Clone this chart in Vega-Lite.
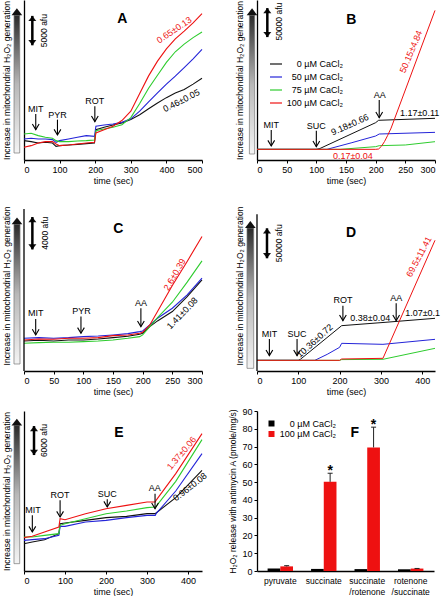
{
"$schema":"https://vega.github.io/schema/vega-lite/v6.json",
"padding":{"left":2,"top":0,"right":0,"bottom":0},
"columns":2,
"spacing":{"row":40,"column":55},
"bounds":"flush",
"resolve":{"scale":{"color":"independent"},"legend":{"color":"independent"}},
"config":{
 "font":"Liberation Sans",
 "view":{"stroke":null},
 "axis":{"grid":false,"domainColor":"#000","domainWidth":1.3,"tickColor":"#000","tickSize":3,"labelColor":"#000","titleColor":"#000","labelFontSize":9,"titleFontSize":9,"titleFontWeight":"normal","labelPadding":2,"minExtent":0,"labelFont":"Liberation Sans","titleFont":"Liberation Sans"},
 "legend":{"labelFont":"Liberation Sans","labelColor":"#000","padding":0},
 "text":{"font":"Liberation Sans"}
},
"datasets":{
"L":[
{"p":"A","s":"0","x":0,"y":3290},{"p":"A","s":"0","x":20,"y":3120},{"p":"A","s":"0","x":40,"y":2890},{"p":"A","s":"0","x":60,"y":3005},{"p":"A","s":"0","x":80,"y":2890},{"p":"A","s":"0","x":90,"y":2320},{"p":"A","s":"0","x":100,"y":2440},{"p":"A","s":"0","x":125,"y":2550},{"p":"A","s":"0","x":150,"y":2660},{"p":"A","s":"0","x":175,"y":2780},{"p":"A","s":"0","x":198,"y":2890},{"p":"A","s":"0","x":202,"y":5160},{"p":"A","s":"0","x":225,"y":5560},{"p":"A","s":"0","x":250,"y":5950},{"p":"A","s":"0","x":275,"y":6290},{"p":"A","s":"0","x":300,"y":6900},{"p":"A","s":"0","x":325,"y":7700},{"p":"A","s":"0","x":350,"y":8700},{"p":"A","s":"0","x":375,"y":9700},{"p":"A","s":"0","x":400,"y":10600},{"p":"A","s":"0","x":425,"y":11400},{"p":"A","s":"0","x":450,"y":12000},{"p":"A","s":"0","x":475,"y":12900},{"p":"A","s":"0","x":500,"y":13900},
{"p":"A","s":"50","x":0,"y":3570},{"p":"A","s":"50","x":20,"y":3690},{"p":"A","s":"50","x":40,"y":3570},{"p":"A","s":"50","x":60,"y":3570},{"p":"A","s":"50","x":80,"y":3460},{"p":"A","s":"50","x":90,"y":3005},{"p":"A","s":"50","x":100,"y":3290},{"p":"A","s":"50","x":125,"y":3570},{"p":"A","s":"50","x":150,"y":3860},{"p":"A","s":"50","x":175,"y":4140},{"p":"A","s":"50","x":198,"y":4030},{"p":"A","s":"50","x":202,"y":5730},{"p":"A","s":"50","x":225,"y":5950},{"p":"A","s":"50","x":250,"y":6120},{"p":"A","s":"50","x":275,"y":6410},{"p":"A","s":"50","x":300,"y":7000},{"p":"A","s":"50","x":325,"y":8300},{"p":"A","s":"50","x":350,"y":9900},{"p":"A","s":"50","x":375,"y":11400},{"p":"A","s":"50","x":400,"y":12900},{"p":"A","s":"50","x":425,"y":14250},{"p":"A","s":"50","x":450,"y":15700},{"p":"A","s":"50","x":475,"y":17200},{"p":"A","s":"50","x":500,"y":18800},
{"p":"A","s":"75","x":0,"y":4420},{"p":"A","s":"75","x":20,"y":4540},{"p":"A","s":"75","x":40,"y":4140},{"p":"A","s":"75","x":60,"y":3860},{"p":"A","s":"75","x":80,"y":3690},{"p":"A","s":"75","x":90,"y":3290},{"p":"A","s":"75","x":100,"y":3120},{"p":"A","s":"75","x":125,"y":3120},{"p":"A","s":"75","x":150,"y":3230},{"p":"A","s":"75","x":175,"y":3290},{"p":"A","s":"75","x":198,"y":3400},{"p":"A","s":"75","x":202,"y":4990},{"p":"A","s":"75","x":225,"y":5270},{"p":"A","s":"75","x":250,"y":5560},{"p":"A","s":"75","x":275,"y":6000},{"p":"A","s":"75","x":300,"y":7200},{"p":"A","s":"75","x":325,"y":9600},{"p":"A","s":"75","x":350,"y":12200},{"p":"A","s":"75","x":375,"y":14400},{"p":"A","s":"75","x":400,"y":16600},{"p":"A","s":"75","x":425,"y":18400},{"p":"A","s":"75","x":450,"y":19700},{"p":"A","s":"75","x":475,"y":20800},{"p":"A","s":"75","x":500,"y":21750},
{"p":"A","s":"100","x":0,"y":2155},{"p":"A","s":"100","x":20,"y":2440},{"p":"A","s":"100","x":40,"y":2890},{"p":"A","s":"100","x":60,"y":3120},{"p":"A","s":"100","x":80,"y":3120},{"p":"A","s":"100","x":90,"y":2720},{"p":"A","s":"100","x":100,"y":2440},{"p":"A","s":"100","x":125,"y":2550},{"p":"A","s":"100","x":150,"y":2720},{"p":"A","s":"100","x":175,"y":2890},{"p":"A","s":"100","x":198,"y":3005},{"p":"A","s":"100","x":202,"y":4590},{"p":"A","s":"100","x":225,"y":5160},{"p":"A","s":"100","x":250,"y":5730},{"p":"A","s":"100","x":275,"y":6700},{"p":"A","s":"100","x":300,"y":8300},{"p":"A","s":"100","x":325,"y":11300},{"p":"A","s":"100","x":350,"y":14300},{"p":"A","s":"100","x":375,"y":16800},{"p":"A","s":"100","x":400,"y":18900},{"p":"A","s":"100","x":425,"y":20600},{"p":"A","s":"100","x":450,"y":21900},{"p":"A","s":"100","x":475,"y":23300},{"p":"A","s":"100","x":500,"y":24900},
{"p":"B","s":"0","x":0,"y":18400},{"p":"B","s":"0","x":100,"y":18400},{"p":"B","s":"0","x":106,"y":19800},{"p":"B","s":"0","x":200,"y":64400},{"p":"B","s":"0","x":205,"y":68500},{"p":"B","s":"0","x":300,"y":71900},
{"p":"B","s":"50","x":0,"y":18400},{"p":"B","s":"50","x":118,"y":18400},{"p":"B","s":"50","x":160,"y":29900},{"p":"B","s":"50","x":200,"y":41400},{"p":"B","s":"50","x":206,"y":44850},{"p":"B","s":"50","x":300,"y":47700},
{"p":"B","s":"75","x":0,"y":18400},{"p":"B","s":"75","x":140,"y":18400},{"p":"B","s":"75","x":200,"y":23000},{"p":"B","s":"75","x":206,"y":24700},{"p":"B","s":"75","x":250,"y":25900},{"p":"B","s":"75","x":300,"y":31600},
{"p":"B","s":"100","x":0,"y":18400},{"p":"B","s":"100","x":200,"y":18400},{"p":"B","s":"100","x":205,"y":19000},{"p":"B","s":"100","x":210,"y":24000},{"p":"B","s":"100","x":215,"y":32000},{"p":"B","s":"100","x":220,"y":42000},{"p":"B","s":"100","x":226,"y":55000},{"p":"B","s":"100","x":300,"y":258000},
{"p":"C","s":"0","x":0,"y":3708},{"p":"C","s":"0","x":25,"y":3790},{"p":"C","s":"0","x":50,"y":3708},{"p":"C","s":"0","x":75,"y":3832},{"p":"C","s":"0","x":100,"y":3832},{"p":"C","s":"0","x":125,"y":3955},{"p":"C","s":"0","x":150,"y":4120},{"p":"C","s":"0","x":175,"y":4285},{"p":"C","s":"0","x":195,"y":4532},{"p":"C","s":"0","x":200,"y":4656},{"p":"C","s":"0","x":212,"y":5480},{"p":"C","s":"0","x":225,"y":6180},{"p":"C","s":"0","x":250,"y":7334},{"p":"C","s":"0","x":275,"y":9188},{"p":"C","s":"0","x":300,"y":11248},
{"p":"C","s":"50","x":0,"y":4038},{"p":"C","s":"50","x":25,"y":4120},{"p":"C","s":"50","x":50,"y":4038},{"p":"C","s":"50","x":75,"y":4120},{"p":"C","s":"50","x":100,"y":4244},{"p":"C","s":"50","x":125,"y":4326},{"p":"C","s":"50","x":150,"y":4450},{"p":"C","s":"50","x":175,"y":4614},{"p":"C","s":"50","x":195,"y":4862},{"p":"C","s":"50","x":200,"y":4944},{"p":"C","s":"50","x":212,"y":5686},{"p":"C","s":"50","x":225,"y":6510},{"p":"C","s":"50","x":250,"y":7746},{"p":"C","s":"50","x":275,"y":9394},{"p":"C","s":"50","x":300,"y":11454},
{"p":"C","s":"75","x":0,"y":3420},{"p":"C","s":"75","x":25,"y":3502},{"p":"C","s":"75","x":50,"y":3543},{"p":"C","s":"75","x":75,"y":3543},{"p":"C","s":"75","x":100,"y":3626},{"p":"C","s":"75","x":125,"y":3708},{"p":"C","s":"75","x":150,"y":3832},{"p":"C","s":"75","x":175,"y":4038},{"p":"C","s":"75","x":195,"y":4244},{"p":"C","s":"75","x":200,"y":4450},{"p":"C","s":"75","x":212,"y":5480},{"p":"C","s":"75","x":225,"y":6592},{"p":"C","s":"75","x":250,"y":8487},{"p":"C","s":"75","x":275,"y":10959},{"p":"C","s":"75","x":300,"y":13596},
{"p":"C","s":"100","x":0,"y":3832},{"p":"C","s":"100","x":25,"y":3955},{"p":"C","s":"100","x":50,"y":3914},{"p":"C","s":"100","x":75,"y":4038},{"p":"C","s":"100","x":100,"y":4038},{"p":"C","s":"100","x":125,"y":4120},{"p":"C","s":"100","x":150,"y":4367},{"p":"C","s":"100","x":175,"y":4450},{"p":"C","s":"100","x":195,"y":4656},{"p":"C","s":"100","x":200,"y":4779},{"p":"C","s":"100","x":212,"y":5686},{"p":"C","s":"100","x":225,"y":7334},{"p":"C","s":"100","x":250,"y":10547},{"p":"C","s":"100","x":275,"y":13514},{"p":"C","s":"100","x":300,"y":16604},
{"p":"D","s":"0","x":0,"y":17792},{"p":"D","s":"0","x":100,"y":17792},{"p":"D","s":"0","x":105,"y":19460},{"p":"D","s":"0","x":205,"y":75616},{"p":"D","s":"0","x":310,"y":81176},{"p":"D","s":"0","x":431,"y":87848},
{"p":"D","s":"50","x":0,"y":17792},{"p":"D","s":"50","x":140,"y":17792},{"p":"D","s":"50","x":170,"y":27800},{"p":"D","s":"50","x":200,"y":39476},{"p":"D","s":"50","x":205,"y":46148},{"p":"D","s":"50","x":305,"y":44480},{"p":"D","s":"50","x":431,"y":52820},
{"p":"D","s":"75","x":0,"y":17792},{"p":"D","s":"75","x":200,"y":17792},{"p":"D","s":"75","x":205,"y":19000},{"p":"D","s":"75","x":305,"y":19500},{"p":"D","s":"75","x":431,"y":37808},
{"p":"D","s":"100","x":0,"y":17792},{"p":"D","s":"100","x":200,"y":17792},{"p":"D","s":"100","x":205,"y":20016},{"p":"D","s":"100","x":305,"y":21128},{"p":"D","s":"100","x":431,"y":218000},
{"p":"E","s":"0","x":0,"y":5658},{"p":"E","s":"0","x":20,"y":6003},{"p":"E","s":"0","x":50,"y":6486},{"p":"E","s":"0","x":85,"y":7728},{"p":"E","s":"0","x":88,"y":9798},{"p":"E","s":"0","x":100,"y":9936},{"p":"E","s":"0","x":150,"y":10488},{"p":"E","s":"0","x":200,"y":11040},{"p":"E","s":"0","x":250,"y":11316},{"p":"E","s":"0","x":300,"y":11868},{"p":"E","s":"0","x":320,"y":11868},{"p":"E","s":"0","x":322,"y":12006},{"p":"E","s":"0","x":370,"y":15180},{"p":"E","s":"0","x":434,"y":20838},
{"p":"E","s":"50","x":0,"y":6348},{"p":"E","s":"50","x":20,"y":6486},{"p":"E","s":"50","x":50,"y":6693},{"p":"E","s":"50","x":85,"y":7383},{"p":"E","s":"50","x":88,"y":9246},{"p":"E","s":"50","x":100,"y":9246},{"p":"E","s":"50","x":150,"y":10143},{"p":"E","s":"50","x":200,"y":10488},{"p":"E","s":"50","x":250,"y":11040},{"p":"E","s":"50","x":300,"y":11523},{"p":"E","s":"50","x":320,"y":11523},{"p":"E","s":"50","x":322,"y":11868},{"p":"E","s":"50","x":370,"y":16560},{"p":"E","s":"50","x":434,"y":24288},
{"p":"E","s":"75","x":0,"y":7038},{"p":"E","s":"75","x":20,"y":7038},{"p":"E","s":"75","x":50,"y":7383},{"p":"E","s":"75","x":85,"y":7728},{"p":"E","s":"75","x":88,"y":9453},{"p":"E","s":"75","x":100,"y":9798},{"p":"E","s":"75","x":150,"y":10833},{"p":"E","s":"75","x":200,"y":11868},{"p":"E","s":"75","x":250,"y":12420},{"p":"E","s":"75","x":300,"y":13110},{"p":"E","s":"75","x":320,"y":13248},{"p":"E","s":"75","x":322,"y":13386},{"p":"E","s":"75","x":370,"y":18561},{"p":"E","s":"75","x":434,"y":27186},
{"p":"E","s":"100","x":0,"y":6900},{"p":"E","s":"100","x":20,"y":7176},{"p":"E","s":"100","x":50,"y":8073},{"p":"E","s":"100","x":85,"y":9108},{"p":"E","s":"100","x":88,"y":10833},{"p":"E","s":"100","x":100,"y":10626},{"p":"E","s":"100","x":150,"y":11868},{"p":"E","s":"100","x":200,"y":12903},{"p":"E","s":"100","x":250,"y":13593},{"p":"E","s":"100","x":300,"y":14283},{"p":"E","s":"100","x":320,"y":14283},{"p":"E","s":"100","x":322,"y":14628},{"p":"E","s":"100","x":370,"y":20148},{"p":"E","s":"100","x":434,"y":28428}
],
"N":[
{"p":"A","t":"MIT","x":33,"y":8675,"c":"#000","a":0,"fs":9},
{"p":"A","t":"PYR","x":94,"y":7655,"c":"#000","a":0,"fs":9},
{"p":"A","t":"ROT","x":199,"y":10036,"c":"#000","a":0,"fs":9},
{"p":"A","t":"0.65±0.13","x":422,"y":22100,"c":"#ee1111","a":326,"fs":9},
{"p":"A","t":"0.46±0.05","x":442,"y":10100,"c":"#000","a":333,"fs":9},
{"p":"A","t":"5000 afu","x":56,"y":22000,"c":"#000","a":270,"fs":8.5},
{"p":"B","t":"MIT","x":24,"y":60375,"c":"#000","a":0,"fs":9},
{"p":"B","t":"SUC","x":100,"y":58650,"c":"#000","a":0,"fs":9},
{"p":"B","t":"AA","x":207,"y":112125,"c":"#000","a":0,"fs":9},
{"p":"B","t":"50.15±4.84","x":259.6,"y":186800,"c":"#ee1111","a":293,"fs":9},
{"p":"B","t":"0.17±0.04","x":161.6,"y":7475,"c":"#ee1111","a":0,"fs":9},
{"p":"B","t":"9.18±0.66","x":156.5,"y":60950,"c":"#000","a":336,"fs":9},
{"p":"B","t":"1.17±0.11","x":274,"y":80500,"c":"#000","a":0,"fs":9},
{"p":"B","t":"50000 afu","x":36.5,"y":238600,"c":"#000","a":270,"fs":8.5},
{"p":"C","t":"MIT","x":19.7,"y":7130,"c":"#000","a":0,"fs":9},
{"p":"C","t":"PYR","x":97,"y":7460,"c":"#000","a":0,"fs":9},
{"p":"C","t":"AA","x":197,"y":8360,"c":"#000","a":0,"fs":9},
{"p":"C","t":"2.6±0.39","x":253.8,"y":11900,"c":"#ee1111","a":300,"fs":9},
{"p":"C","t":"1.41±0.08","x":266.8,"y":7130,"c":"#000","a":314,"fs":9},
{"p":"C","t":"4000 afu","x":35,"y":17000,"c":"#000","a":270,"fs":8.5},
{"p":"D","t":"MIT","x":30,"y":61700,"c":"#000","a":0,"fs":9},
{"p":"D","t":"SUC","x":97,"y":61700,"c":"#000","a":0,"fs":9},
{"p":"D","t":"ROT","x":208,"y":118400,"c":"#000","a":0,"fs":9},
{"p":"D","t":"AA","x":337,"y":122300,"c":"#000","a":0,"fs":9},
{"p":"D","t":"69.5±11.41","x":392,"y":190600,"c":"#ee1111","a":298,"fs":9},
{"p":"D","t":"10.36±0.72","x":140,"y":50500,"c":"#000","a":318,"fs":9},
{"p":"D","t":"0.38±0.04","x":274.4,"y":88900,"c":"#000","a":0,"fs":9},
{"p":"D","t":"1.07±0.1","x":401,"y":96100,"c":"#000","a":0,"fs":9},
{"p":"D","t":"50000 afu","x":54,"y":213000,"c":"#000","a":270,"fs":8.5},
{"p":"E","t":"MIT","x":22,"y":12700,"c":"#000","a":0,"fs":9},
{"p":"E","t":"ROT","x":88,"y":15800,"c":"#000","a":0,"fs":9},
{"p":"E","t":"SUC","x":203,"y":15870,"c":"#000","a":0,"fs":9},
{"p":"E","t":"AA","x":319,"y":17250,"c":"#000","a":0,"fs":9},
{"p":"E","t":"1.37±0.06","x":384,"y":24400,"c":"#ee1111","a":310,"fs":9},
{"p":"E","t":"0.96±0.08","x":404.6,"y":17400,"c":"#000","a":322,"fs":9},
{"p":"E","t":"6000 afu","x":48.8,"y":27000,"c":"#000","a":270,"fs":8.5}
],
"K":[
{"p":"A","t":"A","x":276,"y":23980},
{"p":"B","t":"B","x":158.8,"y":241500},
{"p":"C","t":"C","x":159,"y":17550},
{"p":"D","t":"D","x":228,"y":230700},
{"p":"E","t":"E","x":231.7,"y":28635}
],
"R":[
{"p":"A","x":33,"y":5160,"y2":7825,"w":1.1},{"p":"A","x":94,"y":4250,"y2":6860,"w":1.1},{"p":"A","x":199,"y":6520,"y2":9130,"w":1.1},{"p":"A","x":23.4,"y":19500,"y2":24500,"w":2.5},
{"p":"B","x":24,"y":24150,"y2":51750,"w":1.1},{"p":"B","x":100,"y":23000,"y2":50600,"w":1.1},{"p":"B","x":206,"y":73000,"y2":103500,"w":1.1},{"p":"B","x":17.4,"y":212000,"y2":262000,"w":2.5},
{"p":"C","x":19.7,"y":4450,"y2":6430,"w":1.1},{"p":"C","x":96,"y":4655,"y2":6715,"w":1.1},{"p":"C","x":197,"y":5480,"y2":7745,"w":1.1},{"p":"C","x":14.1,"y":15000,"y2":19000,"w":2.5},{"p":"C","x":0,"y":0,"y2":19980,"w":1.3},
{"p":"D","x":30,"y":25600,"y2":53400,"w":1.1},{"p":"D","x":97,"y":25600,"y2":53400,"w":1.1},{"p":"D","x":208,"y":84000,"y2":109000,"w":1.1},{"p":"D","x":337,"y":83950,"y2":112900,"w":1.1},{"p":"D","x":24.2,"y":188000,"y2":238000,"w":2.5},{"p":"D","x":0,"y":0,"y2":261300,"w":1.3},
{"p":"E","x":20.3,"y":8070,"y2":11520,"w":1.1},{"p":"E","x":88,"y":11180,"y2":14630,"w":1.1},{"p":"E","x":203,"y":13250,"y2":14835,"w":1.1},{"p":"E","x":319.5,"y":12900,"y2":16010,"w":1.1},{"p":"E","x":24.4,"y":24000,"y2":30000,"w":2.5}
],
"H":[
{"p":"A","x":33,"y":5160},{"p":"A","x":94,"y":4250},{"p":"A","x":199,"y":6520},
{"p":"B","x":24,"y":24150},{"p":"B","x":100,"y":23000},{"p":"B","x":206,"y":73000},
{"p":"C","x":19.7,"y":4450},{"p":"C","x":96,"y":4655},{"p":"C","x":197,"y":5480},
{"p":"D","x":30,"y":25600},{"p":"D","x":97,"y":25600},{"p":"D","x":208,"y":84000},{"p":"D","x":337,"y":83950},
{"p":"E","x":20.3,"y":8070},{"p":"E","x":88,"y":11180},{"p":"E","x":203,"y":13250},{"p":"E","x":319.5,"y":12900}
],
"T":[
{"p":"A","x":23.4,"y":24500,"sh":"M0,0L1,1.3L-1,1.3Z","sz":64},{"p":"A","x":23.4,"y":19500,"sh":"M0,0L1,-1.3L-1,-1.3Z","sz":64},{"p":"A","x":-20,"y":25800,"sh":"M0,0L1,1.3L-1,1.3Z","sz":114},
{"p":"B","x":17.4,"y":262000,"sh":"M0,0L1,1.3L-1,1.3Z","sz":64},{"p":"B","x":17.4,"y":212000,"sh":"M0,0L1,-1.3L-1,-1.3Z","sz":64},{"p":"B","x":-8.35,"y":261600,"sh":"M0,0L1,1.3L-1,1.3Z","sz":114},
{"p":"C","x":14.1,"y":19000,"sh":"M0,0L1,1.3L-1,1.3Z","sz":64},{"p":"C","x":14.1,"y":15000,"sh":"M0,0L1,-1.3L-1,-1.3Z","sz":64},{"p":"C","x":-11.8,"y":18950,"sh":"M0,0L1,1.3L-1,1.3Z","sz":114},
{"p":"D","x":24.2,"y":238000,"sh":"M0,0L1,1.3L-1,1.3Z","sz":64},{"p":"D","x":24.2,"y":188000,"sh":"M0,0L1,-1.3L-1,-1.3Z","sz":64},{"p":"D","x":-16.1,"y":250000,"sh":"M0,0L1,1.3L-1,1.3Z","sz":114},
{"p":"E","x":24.4,"y":30000,"sh":"M0,0L1,1.3L-1,1.3Z","sz":64},{"p":"E","x":24.4,"y":24000,"sh":"M0,0L1,-1.3L-1,-1.3Z","sz":64},{"p":"E","x":-17.45,"y":31530,"sh":"M0,0L1,1.3L-1,1.3Z","sz":114}
],
"G":[
{"p":"A","x":-28,"x2":-12,"y":1190,"y2":24600},
{"p":"B","x":-12.8,"x2":-3.9,"y":10350,"y2":249600},
{"p":"C","x":-16.9,"x2":-6.7,"y":865,"y2":18100},
{"p":"D","x":-24.2,"x2":-8,"y":4450,"y2":238300},
{"p":"E","x":-24.4,"x2":-10.5,"y":1518,"y2":30100}
],
"F":[
{"cat":"pyruvate","g":"0","v":1.41,"hi":1.49},
{"cat":"pyruvate","g":"100","v":2.6,"hi":2.99},
{"cat":"succinate","g":"0","v":1.17,"hi":1.28},
{"cat":"succinate","g":"100","v":50.15,"hi":54.99},
{"cat":"succinate /rotenone","g":"0","v":1.07,"hi":1.17},
{"cat":"succinate /rotenone","g":"100","v":69.5,"hi":80.91},
{"cat":"rotenone /succinate","g":"0","v":0.96,"hi":1.04},
{"cat":"rotenone /succinate","g":"100","v":1.37,"hi":1.43}
],
"FC":[
{"cat":"pyruvate","g":"100","v":2.99},
{"cat":"succinate","g":"100","v":54.99},
{"cat":"succinate /rotenone","g":"100","v":80.91},
{"cat":"rotenone /succinate","g":"100","v":1.43}
]
},
"concat":[
{
 "width":178,"height":160,
 "encoding":{
  "x":{"field":"x","type":"quantitative","scale":{"domain":[0,500],"nice":false,"zero":false},"axis":{"values":[0,100,200,300,400,500],"title":"time (sec)","titlePadding":2}},
  "y":{"field":"y","type":"quantitative","scale":{"domain":[0,27200],"nice":false,"zero":false},"axis":{"title":"Increase in mitochondrial H₂O₂ generation","labels":false,"ticks":false,"titleFontSize":8.5,"titlePadding":13}}
 },
 "layer":[
  {"data":{"name":"G"},"transform":[{"filter":"datum.p=='A'"}],"mark":{"type":"rect","fill":{"gradient":"linear","x1":0,"y1":1,"x2":0,"y2":0,"stops":[{"offset":0,"color":"#f4f4f4"},{"offset":0.5,"color":"#b8b8b8"},{"offset":1,"color":"#2a2a2a"}]},"stroke":"#777","strokeWidth":0.7},"encoding":{"x2":{"field":"x2"},"y2":{"field":"y2"}}},
  {"data":{"name":"T"},"transform":[{"filter":"datum.p=='A'"}],"mark":{"type":"point","filled":true,"color":"#111","opacity":1,"strokeWidth":0},"encoding":{"shape":{"field":"sh","type":"nominal","scale":null},"size":{"field":"sz","type":"quantitative","scale":null}}},
  {"data":{"name":"L"},"transform":[{"filter":"datum.p=='A'"}],"mark":{"type":"line","strokeWidth":1.1},"encoding":{"color":{"field":"s","type":"nominal","scale":{"domain":["0","50","75","100"],"range":["#111111","#2424d8","#2ecc2e","#ee1111"]},"legend":null}}},
  {"data":{"name":"R"},"transform":[{"filter":"datum.p=='A'"}],"mark":{"type":"rule","color":"#000"},"encoding":{"y2":{"field":"y2"},"strokeWidth":{"field":"w","type":"quantitative","scale":null}}},
  {"data":{"name":"H"},"transform":[{"filter":"datum.p=='A'"}],"mark":{"type":"point","shape":"M-0.75,-1.25L0,0L0.75,-1.25","size":81,"filled":false,"color":"#000","strokeWidth":1.1,"opacity":1}},
  {"data":{"name":"N"},"transform":[{"filter":"datum.p=='A'"}],"mark":{"type":"text","baseline":"middle","align":"center"},"encoding":{"text":{"field":"t"},"color":{"field":"c","type":"nominal","scale":null},"angle":{"field":"a","type":"quantitative","scale":null},"size":{"field":"fs","type":"quantitative","scale":null}}},
  {"data":{"name":"K"},"transform":[{"filter":"datum.p=='A'"}],"mark":{"type":"text","fontSize":14,"fontWeight":"bold","baseline":"middle","color":"#000"},"encoding":{"text":{"field":"t"}}}
 ]
},
{
 "width":178,"height":160,
 "encoding":{
  "x":{"field":"x","type":"quantitative","scale":{"domain":[0,300],"nice":false,"zero":false},"axis":{"values":[0,50,100,150,200,250,300],"title":"time (sec)","titlePadding":2}},
  "y":{"field":"y","type":"quantitative","scale":{"domain":[0,276000],"nice":false,"zero":false},"axis":{"title":"Increase in mitochondrial H₂O₂ generation","labels":false,"ticks":false,"titleFontSize":8.5,"titlePadding":13}}
 },
 "layer":[
  {"data":{"name":"G"},"transform":[{"filter":"datum.p=='B'"}],"mark":{"type":"rect","fill":{"gradient":"linear","x1":0,"y1":1,"x2":0,"y2":0,"stops":[{"offset":0,"color":"#f4f4f4"},{"offset":0.5,"color":"#b8b8b8"},{"offset":1,"color":"#2a2a2a"}]},"stroke":"#777","strokeWidth":0.7},"encoding":{"x2":{"field":"x2"},"y2":{"field":"y2"}}},
  {"data":{"name":"T"},"transform":[{"filter":"datum.p=='B'"}],"mark":{"type":"point","filled":true,"color":"#111","opacity":1,"strokeWidth":0},"encoding":{"shape":{"field":"sh","type":"nominal","scale":null},"size":{"field":"sz","type":"quantitative","scale":null}}},
  {"data":{"name":"L"},"transform":[{"filter":"datum.p=='B'"}],"mark":{"type":"line","strokeWidth":1},"encoding":{"color":{"field":"s","type":"nominal","scale":{"domain":["0","50","75","100"],"range":["#111111","#2424d8","#2ecc2e","#ee1111"]},"legend":{"orient":"none","legendX":12,"legendY":57,"title":null,"symbolType":"stroke","symbolSize":144,"symbolStrokeWidth":1.2,"labelFontSize":9,"labelAlign":"right","labelOffset":60,"rowPadding":1,"labelExpr":"datum.label+' µM CaCl₂'"}}}},
  {"data":{"name":"R"},"transform":[{"filter":"datum.p=='B'"}],"mark":{"type":"rule","color":"#000"},"encoding":{"y2":{"field":"y2"},"strokeWidth":{"field":"w","type":"quantitative","scale":null}}},
  {"data":{"name":"H"},"transform":[{"filter":"datum.p=='B'"}],"mark":{"type":"point","shape":"M-0.75,-1.25L0,0L0.75,-1.25","size":81,"filled":false,"color":"#000","strokeWidth":1.1,"opacity":1}},
  {"data":{"name":"N"},"transform":[{"filter":"datum.p=='B'"}],"mark":{"type":"text","baseline":"middle","align":"center"},"encoding":{"text":{"field":"t"},"color":{"field":"c","type":"nominal","scale":null},"angle":{"field":"a","type":"quantitative","scale":null},"size":{"field":"fs","type":"quantitative","scale":null}}},
  {"data":{"name":"K"},"transform":[{"filter":"datum.p=='B'"}],"mark":{"type":"text","fontSize":14,"fontWeight":"bold","baseline":"middle","color":"#000"},"encoding":{"text":{"field":"t"}}}
 ]
},
{
 "width":178,"height":171,
 "encoding":{
  "x":{"field":"x","type":"quantitative","scale":{"domain":[0,300],"nice":false,"zero":false},"axis":{"values":[0,50,100,150,200,250,300],"title":"time (sec)","titlePadding":2}},
  "y":{"field":"y","type":"quantitative","scale":{"domain":[0,21100],"nice":false,"zero":false},"axis":{"title":"Increase in mitochondrial H₂O₂ generation","labels":false,"ticks":false,"domain":false,"titleFontSize":8.5,"titlePadding":13}}
 },
 "layer":[
  {"data":{"name":"G"},"transform":[{"filter":"datum.p=='C'"}],"mark":{"type":"rect","fill":{"gradient":"linear","x1":0,"y1":1,"x2":0,"y2":0,"stops":[{"offset":0,"color":"#f4f4f4"},{"offset":0.5,"color":"#b8b8b8"},{"offset":1,"color":"#2a2a2a"}]},"stroke":"#777","strokeWidth":0.7},"encoding":{"x2":{"field":"x2"},"y2":{"field":"y2"}}},
  {"data":{"name":"T"},"transform":[{"filter":"datum.p=='C'"}],"mark":{"type":"point","filled":true,"color":"#111","opacity":1,"strokeWidth":0},"encoding":{"shape":{"field":"sh","type":"nominal","scale":null},"size":{"field":"sz","type":"quantitative","scale":null}}},
  {"data":{"name":"L"},"transform":[{"filter":"datum.p=='C'"}],"mark":{"type":"line","strokeWidth":1.1},"encoding":{"color":{"field":"s","type":"nominal","scale":{"domain":["0","50","75","100"],"range":["#111111","#2424d8","#2ecc2e","#ee1111"]},"legend":null}}},
  {"data":{"name":"R"},"transform":[{"filter":"datum.p=='C'"}],"mark":{"type":"rule","color":"#000"},"encoding":{"y2":{"field":"y2"},"strokeWidth":{"field":"w","type":"quantitative","scale":null}}},
  {"data":{"name":"H"},"transform":[{"filter":"datum.p=='C'"}],"mark":{"type":"point","shape":"M-0.75,-1.25L0,0L0.75,-1.25","size":81,"filled":false,"color":"#000","strokeWidth":1.1,"opacity":1}},
  {"data":{"name":"N"},"transform":[{"filter":"datum.p=='C'"}],"mark":{"type":"text","baseline":"middle","align":"center"},"encoding":{"text":{"field":"t"},"color":{"field":"c","type":"nominal","scale":null},"angle":{"field":"a","type":"quantitative","scale":null},"size":{"field":"fs","type":"quantitative","scale":null}}},
  {"data":{"name":"K"},"transform":[{"filter":"datum.p=='C'"}],"mark":{"type":"text","fontSize":14,"fontWeight":"bold","baseline":"middle","color":"#000"},"encoding":{"text":{"field":"t"}}}
 ]
},
{
 "width":178,"height":171,
 "encoding":{
  "x":{"field":"x","type":"quantitative","scale":{"domain":[0,431],"nice":false,"zero":false},"axis":{"values":[0,100,200,300,400],"title":"time (sec)","titlePadding":2}},
  "y":{"field":"y","type":"quantitative","scale":{"domain":[0,285200],"nice":false,"zero":false},"axis":{"title":"Increase in mitochondrial H₂O₂ generation","labels":false,"ticks":false,"domain":false,"titleFontSize":8.5,"titlePadding":13}}
 },
 "layer":[
  {"data":{"name":"G"},"transform":[{"filter":"datum.p=='D'"}],"mark":{"type":"rect","fill":{"gradient":"linear","x1":0,"y1":1,"x2":0,"y2":0,"stops":[{"offset":0,"color":"#f4f4f4"},{"offset":0.5,"color":"#b8b8b8"},{"offset":1,"color":"#2a2a2a"}]},"stroke":"#777","strokeWidth":0.7},"encoding":{"x2":{"field":"x2"},"y2":{"field":"y2"}}},
  {"data":{"name":"T"},"transform":[{"filter":"datum.p=='D'"}],"mark":{"type":"point","filled":true,"color":"#111","opacity":1,"strokeWidth":0},"encoding":{"shape":{"field":"sh","type":"nominal","scale":null},"size":{"field":"sz","type":"quantitative","scale":null}}},
  {"data":{"name":"L"},"transform":[{"filter":"datum.p=='D'"}],"mark":{"type":"line","strokeWidth":1},"encoding":{"color":{"field":"s","type":"nominal","scale":{"domain":["0","50","75","100"],"range":["#111111","#2424d8","#2ecc2e","#ee1111"]},"legend":null}}},
  {"data":{"name":"R"},"transform":[{"filter":"datum.p=='D'"}],"mark":{"type":"rule","color":"#000"},"encoding":{"y2":{"field":"y2"},"strokeWidth":{"field":"w","type":"quantitative","scale":null}}},
  {"data":{"name":"H"},"transform":[{"filter":"datum.p=='D'"}],"mark":{"type":"point","shape":"M-0.75,-1.25L0,0L0.75,-1.25","size":81,"filled":false,"color":"#000","strokeWidth":1.1,"opacity":1}},
  {"data":{"name":"N"},"transform":[{"filter":"datum.p=='D'"}],"mark":{"type":"text","baseline":"middle","align":"center"},"encoding":{"text":{"field":"t"},"color":{"field":"c","type":"nominal","scale":null},"angle":{"field":"a","type":"quantitative","scale":null},"size":{"field":"fs","type":"quantitative","scale":null}}},
  {"data":{"name":"K"},"transform":[{"filter":"datum.p=='D'"}],"mark":{"type":"text","fontSize":14,"fontWeight":"bold","baseline":"middle","color":"#000"},"encoding":{"text":{"field":"t"}}}
 ]
},
{
 "width":178,"height":160,
 "encoding":{
  "x":{"field":"x","type":"quantitative","scale":{"domain":[0,434],"nice":false,"zero":false},"axis":{"values":[0,100,200,300,400],"title":"time (sec)","titlePadding":2}},
  "y":{"field":"y","type":"quantitative","scale":{"domain":[0,33120],"nice":false,"zero":false},"axis":{"title":"Increase in mitochondrial H₂O₂ generation","labels":false,"ticks":false,"titleFontSize":8.5,"titlePadding":13}}
 },
 "layer":[
  {"data":{"name":"G"},"transform":[{"filter":"datum.p=='E'"}],"mark":{"type":"rect","fill":{"gradient":"linear","x1":0,"y1":1,"x2":0,"y2":0,"stops":[{"offset":0,"color":"#f4f4f4"},{"offset":0.5,"color":"#b8b8b8"},{"offset":1,"color":"#2a2a2a"}]},"stroke":"#777","strokeWidth":0.7},"encoding":{"x2":{"field":"x2"},"y2":{"field":"y2"}}},
  {"data":{"name":"T"},"transform":[{"filter":"datum.p=='E'"}],"mark":{"type":"point","filled":true,"color":"#111","opacity":1,"strokeWidth":0},"encoding":{"shape":{"field":"sh","type":"nominal","scale":null},"size":{"field":"sz","type":"quantitative","scale":null}}},
  {"data":{"name":"L"},"transform":[{"filter":"datum.p=='E'"}],"mark":{"type":"line","strokeWidth":1.1},"encoding":{"color":{"field":"s","type":"nominal","scale":{"domain":["0","50","75","100"],"range":["#111111","#2424d8","#2ecc2e","#ee1111"]},"legend":null}}},
  {"data":{"name":"R"},"transform":[{"filter":"datum.p=='E'"}],"mark":{"type":"rule","color":"#000"},"encoding":{"y2":{"field":"y2"},"strokeWidth":{"field":"w","type":"quantitative","scale":null}}},
  {"data":{"name":"H"},"transform":[{"filter":"datum.p=='E'"}],"mark":{"type":"point","shape":"M-0.75,-1.25L0,0L0.75,-1.25","size":81,"filled":false,"color":"#000","strokeWidth":1.1,"opacity":1}},
  {"data":{"name":"N"},"transform":[{"filter":"datum.p=='E'"}],"mark":{"type":"text","baseline":"middle","align":"center"},"encoding":{"text":{"field":"t"},"color":{"field":"c","type":"nominal","scale":null},"angle":{"field":"a","type":"quantitative","scale":null},"size":{"field":"fs","type":"quantitative","scale":null}}},
  {"data":{"name":"K"},"transform":[{"filter":"datum.p=='E'"}],"mark":{"type":"text","fontSize":14,"fontWeight":"bold","baseline":"middle","color":"#000"},"encoding":{"text":{"field":"t"}}}
 ]
},
{
 "width":177,"height":160,
 "encoding":{
  "y":{"field":"v","type":"quantitative","stack":null,"scale":{"domain":[0,90],"nice":false,"zero":true},"axis":{"values":[0,10,20,30,40,50,60,70,80,90],"labelOverlap":false,"title":"H₂O₂ release with antimycin A (pmole/mg/s)","titleFontSize":8.5,"titlePadding":4}}
 },
 "layer":[
  {"data":{"name":"F"},"mark":{"type":"bar"},"encoding":{
    "x":{"field":"cat","type":"nominal","sort":["pyruvate","succinate","succinate /rotenone","rotenone /succinate"],"scale":{"paddingInner":0.415,"paddingOuter":0.244},"axis":{"title":null,"ticks":false,"labelAngle":0,"labelExpr":"split(datum.label,' ')","labelFontSize":8.5,"labelLineHeight":11,"labelPadding":5}},
    "xOffset":{"field":"g","type":"nominal","sort":["0","100"]},
    "color":{"field":"g","type":"nominal","scale":{"domain":["0","100"],"range":["#000000","#ee1111"]},"legend":{"orient":"none","legendX":10,"legendY":8,"title":null,"symbolType":"square","symbolSize":36,"symbolStrokeWidth":0,"labelFontSize":9,"labelAlign":"right","labelOffset":60,"rowPadding":0.5,"labelExpr":"datum.label+' µM CaCl₂'"}}}},
  {"data":{"name":"F"},"transform":[{"filter":"datum.g=='100'"}],"mark":{"type":"rule","color":"#222","strokeWidth":1},"encoding":{"x":{"field":"cat","type":"nominal","sort":["pyruvate","succinate","succinate /rotenone","rotenone /succinate"]},"xOffset":{"field":"g","type":"nominal","sort":["0","100"]},"y2":{"field":"hi"}}},
  {"data":{"name":"FC"},"mark":{"type":"point","shape":"stroke","size":25,"color":"#222","strokeWidth":1,"opacity":1},"encoding":{"x":{"field":"cat","type":"nominal","sort":["pyruvate","succinate","succinate /rotenone","rotenone /succinate"]},"xOffset":{"field":"g","type":"nominal","sort":["0","100"]}}},
  {"data":{"values":[{"cat":"succinate","g":"100","v":54},{"cat":"succinate /rotenone","g":"100","v":80}]},"mark":{"type":"text","text":"*","fontSize":14,"fontWeight":"bold","baseline":"alphabetic","color":"#000"},"encoding":{"x":{"field":"cat","type":"nominal","sort":["pyruvate","succinate","succinate /rotenone","rotenone /succinate"]},"xOffset":{"field":"g","type":"nominal","sort":["0","100"]}}},
  {"data":{"values":[{"cat":"succinate /rotenone","g":"0","v":77.7}]},"mark":{"type":"text","text":"F","fontSize":14,"fontWeight":"bold","baseline":"middle","dx":-6,"color":"#000"},"encoding":{"x":{"field":"cat","type":"nominal","sort":["pyruvate","succinate","succinate /rotenone","rotenone /succinate"]},"xOffset":{"field":"g","type":"nominal","sort":["0","100"]}}}
 ]
}
]
}
